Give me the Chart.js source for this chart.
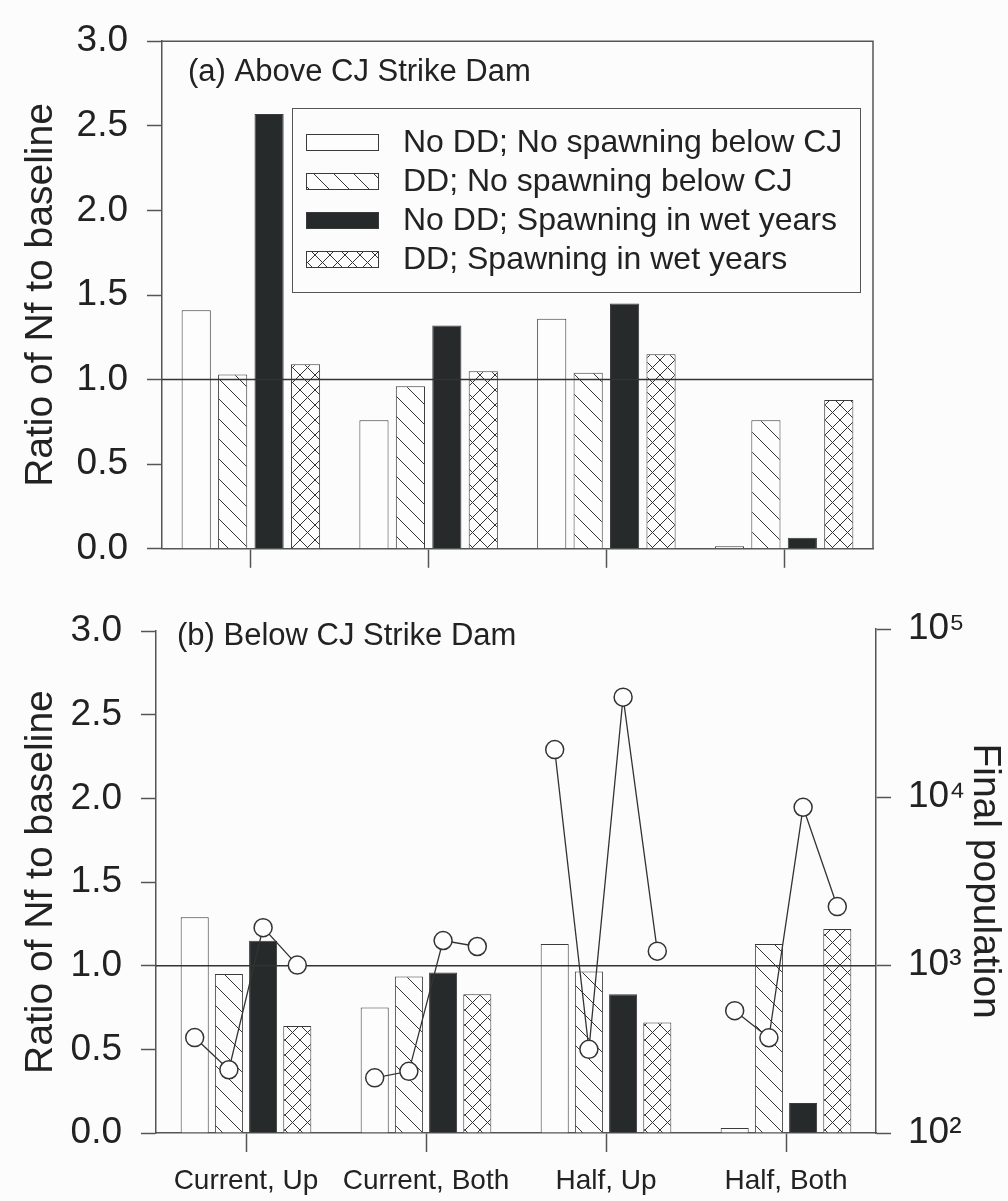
<!DOCTYPE html>
<html lang="en">
<head>
<meta charset="UTF-8">
<title>Ratio of Nf to baseline</title>
<script src="https://cdn.jsdelivr.net/npm/chart.js"></script>
<style>
    body { margin: 0; background: #fcfcfc; }
    #wrap { position: relative; width: 1008px; height: 1201px; }
    .panel { position: absolute; left: 0; width: 1008px; }
    #topPanel { top: 0; height: 590px; }
    #bottomPanel, #overlayPanel { top: 590px; height: 611px; }
</style>
</head>
<body>
<div id="wrap">
    <div class="panel" id="topPanel"><canvas id="chartA"></canvas></div>
    <div class="panel" id="bottomPanel"><canvas id="chartB"></canvas></div>
    <div class="panel" id="overlayPanel"><canvas id="chartC"></canvas></div>
</div>
<script>
// ---- data ----
const categories = ['Current, Up', 'Current, Both', 'Half, Up', 'Half, Both'];
const seriesNames = [
    'No DD; No spawning below CJ',
    'DD; No spawning below CJ',
    'No DD; Spawning in wet years',
    'DD; Spawning in wet years'
];
const yTicks = [0, 0.5, 1, 1.5, 2, 2.5, 3];
const popTicks = [100, 1000, 10000, 100000];

// (a) above CJ Strike Dam, ratio of Nf to baseline
const aboveNoDDNoSpawn = [1.41, 0.76, 1.36, 0.015];
const aboveDDNoSpawn   = [1.03, 0.96, 1.04, 0.76];
const aboveNoDDSpawn   = [2.57, 1.32, 1.45, 0.065];
const aboveDDSpawn     = [1.09, 1.05, 1.15, 0.88];

// (b) below CJ Strike Dam, ratio of Nf to baseline
const belowNoDDNoSpawn = [1.29, 0.75, 1.13, 0.03];
const belowDDNoSpawn   = [0.95, 0.935, 0.965, 1.13];
const belowNoDDSpawn   = [1.15, 0.96, 0.83, 0.18];
const belowDDSpawn     = [0.64, 0.83, 0.66, 1.22];

// (b) final population (right axis, log)
const popNoDDNoSpawn = [370, 213, 19200, 535];
const popDDNoSpawn   = [238, 233, 315, 369];
const popNoDDSpawn   = [1670, 1400, 39400, 8700];
const popDDSpawn     = [1000, 1290, 1210, 2230];

// ---- style ----
const FONT = "'Liberation Sans', Arial, sans-serif";
const textColor = '#222';
const axisColor = '#555';
const barEdge = '#3a3a3a';
Chart.defaults.font.family = FONT;
Chart.defaults.color = textColor;

function makePattern(kind) {
    const d = kind === 'cross' ? 15 : 20;
    const c = document.createElement('canvas');
    c.width = d; c.height = d;
    const g = c.getContext('2d');
    g.fillStyle = '#fdfdfd';
    g.fillRect(0, 0, d, d);
    g.strokeStyle = '#333';
    g.lineWidth = 1;
    g.beginPath();
    g.moveTo(-1, -1); g.lineTo(d + 1, d + 1);
    g.moveTo(-1, d - 1); g.lineTo(1, d + 1);
    g.moveTo(d - 1, -1); g.lineTo(d + 1, 1);
    if (kind === 'cross') {
        g.moveTo(d + 1, -1); g.lineTo(-1, d + 1);
        g.moveTo(1, -1); g.lineTo(-1, 1);
        g.moveTo(d + 1, d - 1); g.lineTo(d - 1, d + 1);
    }
    g.stroke();
    return g.createPattern(c, 'repeat');
}

const fills = ['#fdfdfd', makePattern('hatch'), '#262a2a', makePattern('cross')];

function barSets(series) {
    return series.map((vals, i) => ({
        label: seriesNames[i],
        data: vals,
        backgroundColor: fills[i],
        borderColor: barEdge,
        borderWidth: 1
    }));
}

const panelDecor = {
    id: 'panelDecor',
    afterDatasetsDraw(chart, args, opts) {
        const {ctx, chartArea} = chart;
        ctx.save();
        // reference line at ratio = 1
        const y1 = chart.scales.y.getPixelForValue(1);
        ctx.strokeStyle = '#333';
        ctx.lineWidth = 1.5;
        ctx.beginPath();
        ctx.moveTo(chartArea.left, y1);
        ctx.lineTo(chartArea.right, y1);
        ctx.stroke();
        if (opts.frame) {
            ctx.strokeStyle = axisColor;
            ctx.beginPath();
            ctx.moveTo(chartArea.left, chartArea.top);
            ctx.lineTo(chartArea.right, chartArea.top);
            ctx.lineTo(chartArea.right, chartArea.bottom);
            ctx.stroke();
        }
        ctx.fillStyle = textColor;
        ctx.font = '31px ' + FONT;
        ctx.textBaseline = 'middle';
        ctx.fillText(opts.title, opts.titleX, opts.titleY);

        const L = opts.legend;
        if (L) {
            ctx.strokeStyle = axisColor;
            ctx.lineWidth = 1;
            ctx.fillStyle = '#fcfcfc';
            ctx.fillRect(L.left, L.top, L.width, L.height);
            ctx.strokeRect(L.left + 0.5, L.top + 0.5, L.width, L.height);
            chart.data.datasets.forEach((ds, i) => {
                const y = L.rowY + i * L.rowGap;
                ctx.fillStyle = ds.backgroundColor;
                ctx.fillRect(L.patchX, y - 8, 72, 16);
                ctx.strokeStyle = barEdge;
                ctx.strokeRect(L.patchX + 0.5, y - 7.5, 72, 16);
                ctx.fillStyle = textColor;
                ctx.font = '32px ' + FONT;
                ctx.textBaseline = 'middle';
                ctx.fillText(ds.label, L.textX, y + 1);
            });
        }
        ctx.restore();
    }
};

function yScale(width) {
    return {
        min: 0, max: 3,
        afterBuildTicks: s => { s.ticks = yTicks.map(v => ({value: v})); },
        ticks: { callback: v => v.toFixed(1), font: {size: 37}, color: textColor, padding: 19 },
        grid: { drawOnChartArea: false, tickLength: 15, tickColor: axisColor, tickWidth: 1.5 },
        border: { color: axisColor, width: 1.5 },
        title: { display: true, text: 'Ratio of Nf to baseline', font: {size: 39}, color: textColor, padding: {top: 18, bottom: 0} },
        afterFit: s => { s.width = width; }
    };
}

function xScale(height, showLabels) {
    return {
        type: 'category',
        offset: true,
        grid: { offset: false, drawOnChartArea: false, tickLength: 19, tickColor: axisColor, tickWidth: 1.5 },
        border: { color: axisColor, width: 1.5 },
        ticks: { display: showLabels, font: {size: 28}, color: textColor, padding: 12, maxRotation: 0, autoSkip: false },
        afterFit: s => { s.height = height; }
    };
}

// ---- (a) ----
new Chart(document.getElementById('chartA'), {
    type: 'bar',
    data: {
        labels: categories,
        datasets: barSets([aboveNoDDNoSpawn, aboveDDNoSpawn, aboveNoDDSpawn, aboveDDSpawn])
    },
    options: {
        responsive: true,
        maintainAspectRatio: false,
        animation: false,
        events: [],
        layout: { padding: { top: 40, right: 135, left: 0, bottom: 0 } },
        datasets: { bar: { categoryPercentage: 0.82, barPercentage: 0.8 } },
        plugins: {
            legend: { display: false },
            tooltip: { enabled: false },
            panelDecor: {
                frame: true,
                title: '(a) Above CJ Strike Dam', titleX: 188, titleY: 72,
                legend: { left: 292, top: 108, width: 568, height: 184, patchX: 306, textX: 403, rowY: 142, rowGap: 39 }
            }
        },
        scales: {
            x: xScale(36, false),
            y: yScale(162)
        }
    },
    plugins: [panelDecor]
});

// ---- (b) bars ----
const catPctB = 0.76;
new Chart(document.getElementById('chartB'), {
    type: 'bar',
    data: {
        labels: categories,
        datasets: barSets([belowNoDDNoSpawn, belowDDNoSpawn, belowNoDDSpawn, belowDDSpawn])
    },
    options: {
        responsive: true,
        maintainAspectRatio: false,
        animation: false,
        events: [],
        layout: { padding: { top: 29, right: 132, left: 0, bottom: 0 } },
        datasets: { bar: { categoryPercentage: catPctB, barPercentage: 0.82 } },
        plugins: {
            legend: { display: false },
            tooltip: { enabled: false },
            panelDecor: { title: '(b) Below CJ Strike Dam', titleX: 177, titleY: 46 }
        },
        scales: {
            x: xScale(68, true),
            y: yScale(156)
        }
    },
    plugins: [panelDecor]
});

// ---- (b) final population, drawn over the bars on a matching plot area ----
const popSeries = [popNoDDNoSpawn, popDDNoSpawn, popNoDDSpawn, popDDSpawn];
const popPoints = [];
categories.forEach((c, g) => {
    popSeries.forEach((vals, s) => {
        popPoints.push({ x: g + (s - 1.5) * catPctB / 4, y: vals[g] });
    });
    popPoints.push({ x: g + 0.5, y: null });
});
const sup = {2: '\u00B2', 3: '\u00B3', 4: '\u2074', 5: '\u2075'};

new Chart(document.getElementById('chartC'), {
    type: 'line',
    data: {
        datasets: [{
            label: 'Final population',
            data: popPoints,
            borderColor: '#333',
            borderWidth: 1.3,
            pointRadius: 9,
            pointBackgroundColor: '#fdfdfd',
            pointBorderColor: '#333',
            pointBorderWidth: 1.5,
            spanGaps: false
        }]
    },
    options: {
        responsive: true,
        maintainAspectRatio: false,
        animation: false,
        events: [],
        layout: { padding: { top: 29, right: 0, left: 156, bottom: 68 } },
        plugins: { legend: { display: false }, tooltip: { enabled: false } },
        scales: {
            x: { type: 'linear', display: false, min: -0.5, max: 3.5 },
            y: {
                type: 'logarithmic',
                position: 'right',
                min: 100, max: 100000,
                afterBuildTicks: s => { s.ticks = popTicks.map(v => ({value: v})); },
                ticks: {
                    callback: v => '10' + sup[Math.round(Math.log10(v))],
                    font: {size: 37}, color: textColor, padding: 17
                },
                grid: { drawOnChartArea: false, tickLength: 15, tickColor: axisColor, tickWidth: 1.5 },
                border: { color: axisColor, width: 1.5 },
                title: { display: true, text: 'Final population', font: {size: 39}, color: textColor, padding: {top: 0, bottom: 0} },
                afterFit: s => { s.width = 132; }
            }
        }
    }
});
</script>
</body>
</html>
